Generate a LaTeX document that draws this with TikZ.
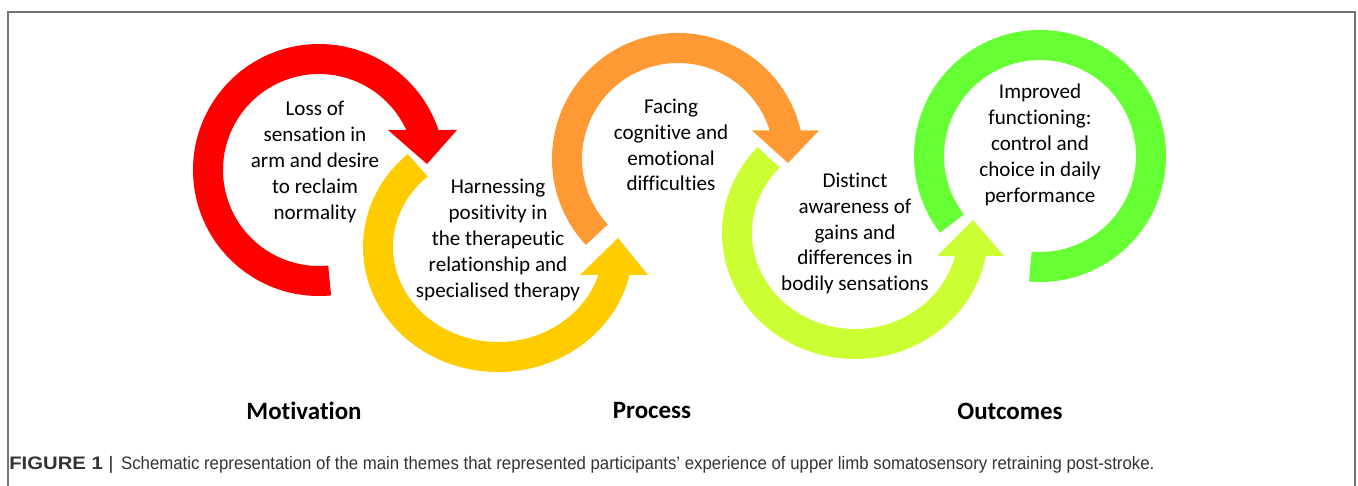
\documentclass[tikz,border=0pt]{standalone}
\usepackage{fontspec}
\setmainfont{Carlito}[Ligatures=NoCommon]
\newfontfamily\capfont[FakeStretch=1.12]{Liberation Sans}
\newfontfamily\capnarrow[FakeStretch=0.928]{Liberation Sans}
\definecolor{ring1}{HTML}{FF0000}
\definecolor{ring2}{HTML}{FFCC00}
\definecolor{ring3}{HTML}{FF9933}
\definecolor{ring4}{HTML}{CCFF33}
\definecolor{ring5}{HTML}{66FF33}

\begin{document}
\begin{tikzpicture}[x=0.02cm, y=0.02cm,
  theme/.style={align=center, inner sep=0pt, font=\fontsize{12}{14.7}\selectfont},
  stage/.style={inner sep=0pt, font=\fontsize{14.2}{17}\selectfont\bfseries},
  frame/.style={draw=black!55, line width=1.1pt}]
  \useasboundingbox (0,0) rectangle (1358,486);
  \draw[frame] (8,-2) -- (8,474) -- (1355,474) -- (1355,-2);

  \coordinate (c1) at (319,316);
  \coordinate (c2) at (498,239);
  \coordinate (c3) at (678,327);
  \coordinate (c4) at (855,253);
  \coordinate (c5) at (1040,330);

  \fill[ring1] ([shift={(c1)}]275.5:126) arc[start angle=275.5, end angle=18.5, radius=126]
    -- (457,356) -- (427,322) -- (388,356) -- ([shift={(c1)}]24.6:96)
    arc[start angle=24.6, end angle=275.5, radius=96] -- cycle;
  \fill[ring2] ([shift={(c2)}]132:135 and 125) arc[start angle=132, end angle=347.1, x radius=135, y radius=125]
    -- (648,211) -- (618,248) -- (580,211) -- ([shift={(c2)}]342.9:105 and 95)
    arc[start angle=342.9, end angle=132, x radius=105, y radius=95] -- cycle;
  \fill[ring3] ([shift={(c3)}]223:126) arc[start angle=223, end angle=13.1, radius=126]
    -- (819,355.5) -- (788,323) -- (752,355.5) -- ([shift={(c3)}]17.3:96)
    arc[start angle=17.3, end angle=223, radius=96] -- cycle;
  \fill[ring4] ([shift={(c4)}]137:133 and 126) arc[start angle=137, end angle=349.5, x radius=133, y radius=126]
    -- (1004,230) -- (973,266) -- (937,230) -- ([shift={(c4)}]346.1:103 and 96)
    arc[start angle=346.1, end angle=137, x radius=103, y radius=96] -- cycle;
  \fill[ring5] ([shift={(c5)}]217.5:126) arc[start angle=217.5, end angle=-95, radius=126]
    -- ([shift={(c5)}]265:96) arc[start angle=-95, end angle=217.5, radius=96] -- cycle;

  \node[theme] (loss) at (315,324) {Loss of\\sensation in\\arm and desire\\to reclaim\\normality};
  \node[theme] (harness) at (498,246) {Harnessing\\positivity in\\the therapeutic\\relationship and\\specialised therapy};
  \node[theme] (facing) at (671,341) {Facing\\cognitive and\\emotional\\difficulties};
  \node[theme] (distinct) at (855,252.5) {Distinct\\awareness of\\gains and\\differences in\\bodily sensations};
  \node[theme] (improved) at (1040,341) {Improved\\functioning:\\control and\\choice in daily\\performance};

  \node[stage] (motivation) at (304,75) {Motivation};
  \node[stage] (process) at (652,75) {Process};
  \node[stage] (outcomes) at (1010,75) {Outcomes};

  \node[anchor=base west, inner sep=0pt, text=black!80] (caption) at (9,16)
    {\capfont\fontsize{10.3}{12}\selectfont\bfseries FIGURE 1 {\mdseries|}\hspace{1pt} \capnarrow\mdseries Schematic representation of the main themes that represented participants’ experience of upper limb somatosensory retraining post-stroke.};
\end{tikzpicture}
\end{document}
